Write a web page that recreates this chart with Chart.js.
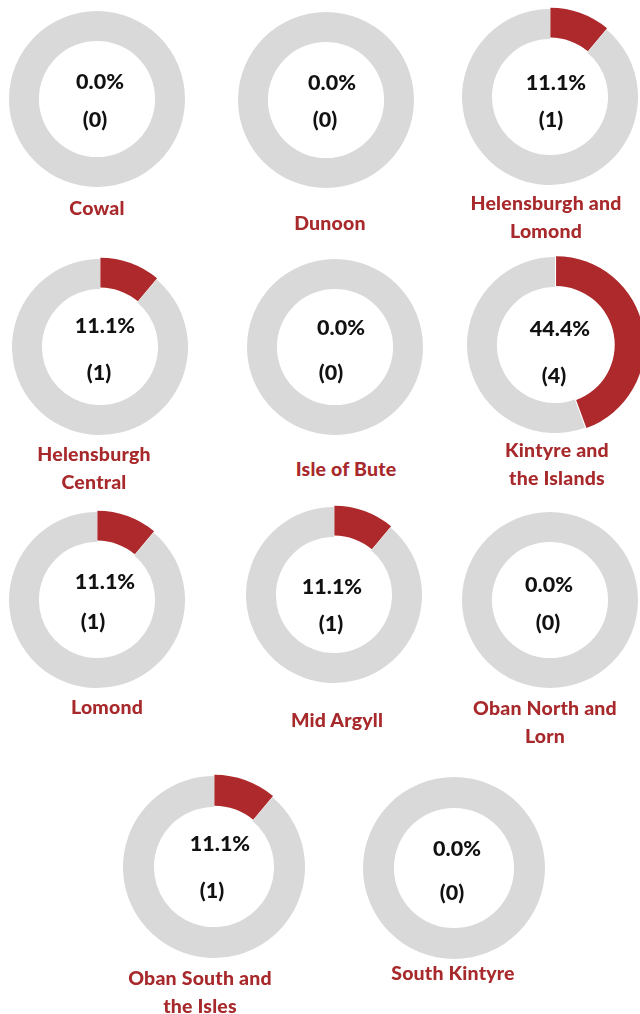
<!DOCTYPE html>
<html>
<head>
<meta charset="utf-8">
<script src="https://cdn.jsdelivr.net/npm/chart.js@4.4.0/dist/chart.umd.min.js"></script>
<style>
  html, body { margin: 0; padding: 0; background: #fff; }
  #stage { position: relative; width: 640px; height: 1014px; overflow: hidden; }
  .ring { position: absolute; width: 200px; height: 200px; }
  .t { position: absolute; transform: translate(-50%, -50%); white-space: nowrap;
       font-family: Lato, "Open Sans", sans-serif; font-weight: 900; }
  .pct { font-size: 21.5px; color: #111; }
  .cnt { font-size: 21.5px; color: #111; }
  .lbl { font-size: 19.5px; color: #A8292B; text-align: center; line-height: 28px; letter-spacing: 0.2px; }
</style>
</head>
<body>
<div id="stage"></div>
<script>
// ---- data ----
const regions = ["Cowal", "Dunoon", "Helensburgh and Lomond", "Helensburgh Central", "Isle of Bute",
                 "Kintyre and the Islands", "Lomond", "Mid Argyll", "Oban North and Lorn",
                 "Oban South and the Isles", "South Kintyre"];
const labelLines = [["Cowal"], ["Dunoon"], ["Helensburgh and", "Lomond"], ["Helensburgh", "Central"],
                    ["Isle of Bute"], ["Kintyre and", "the Islands"], ["Lomond"], ["Mid Argyll"],
                    ["Oban North and", "Lorn"], ["Oban South and", "the Isles"], ["South Kintyre"]];
const counts = [0, 0, 1, 1, 0, 4, 1, 1, 0, 1, 0];
const percentLabels = ["0.0%", "0.0%", "11.1%", "11.1%", "0.0%", "44.4%", "11.1%", "11.1%", "0.0%", "11.1%", "0.0%"];
const total = 9;

// ---- layout (positions only) ----
const ringCenters = [[96.5, 98.5], [326, 99.5], [550, 97], [100, 346.5], [334.5, 346.5], [555, 345],
                     [96.5, 600], [333.5, 595], [550, 600], [214, 867], [454, 868]];
const ringPad = [10, 10, 10, 10, 10, 10, 10, 10, 10, 7, 7];
const pctPos = [[100, 81], [332, 82], [556, 82], [105, 325], [341, 327], [560, 328],
                [105, 581], [332, 586], [549, 584], [220, 843], [457, 848]];
const cntPos = [[95, 119], [325, 119], [551, 119], [99, 372], [331, 372], [554, 375],
                [93, 621], [331, 623], [548, 622], [212, 890], [452, 892]];
const lblPos = [[97, 208], [330, 223], [546, 217], [94, 468], [346, 469], [557, 463.5],
                [107, 707], [337, 720], [545, 722], [200, 991.5], [453, 973]];

const RED = "#AD292B", GREY = "#D9D9D9";
const stage = document.getElementById("stage");

function addText(cls, txt, x, y) {
  const d = document.createElement("div");
  d.className = "t " + cls;
  d.innerHTML = txt;
  d.style.left = x + "px";
  d.style.top = y + "px";
  stage.appendChild(d);
}

regions.forEach((name, i) => {
  const wrap = document.createElement("div");
  wrap.className = "ring";
  wrap.style.left = (ringCenters[i][0] - 100) + "px";
  wrap.style.top = (ringCenters[i][1] - 100) + "px";
  const cv = document.createElement("canvas");
  cv.width = 200; cv.height = 200;
  wrap.appendChild(cv);
  stage.appendChild(wrap);

  new Chart(cv, {
    type: "doughnut",
    data: {
      labels: [name, "Other"],
      datasets: [{
        data: [counts[i], total - counts[i]],
        backgroundColor: [RED, GREY],
        borderWidth: 0,
        offset: [4, 0]
      }]
    },
    options: {
      responsive: false,
      animation: false,
      events: [],
      cutout: "66%",
      layout: { padding: ringPad[i] },
      plugins: { legend: { display: false }, tooltip: { enabled: false } }
    }
  });

  addText("pct", percentLabels[i], pctPos[i][0], pctPos[i][1]);
  addText("cnt", "(" + counts[i] + ")", cntPos[i][0], cntPos[i][1]);
  addText("lbl", labelLines[i].join("<br>"), lblPos[i][0], lblPos[i][1]);
});
</script>
</body>
</html>
